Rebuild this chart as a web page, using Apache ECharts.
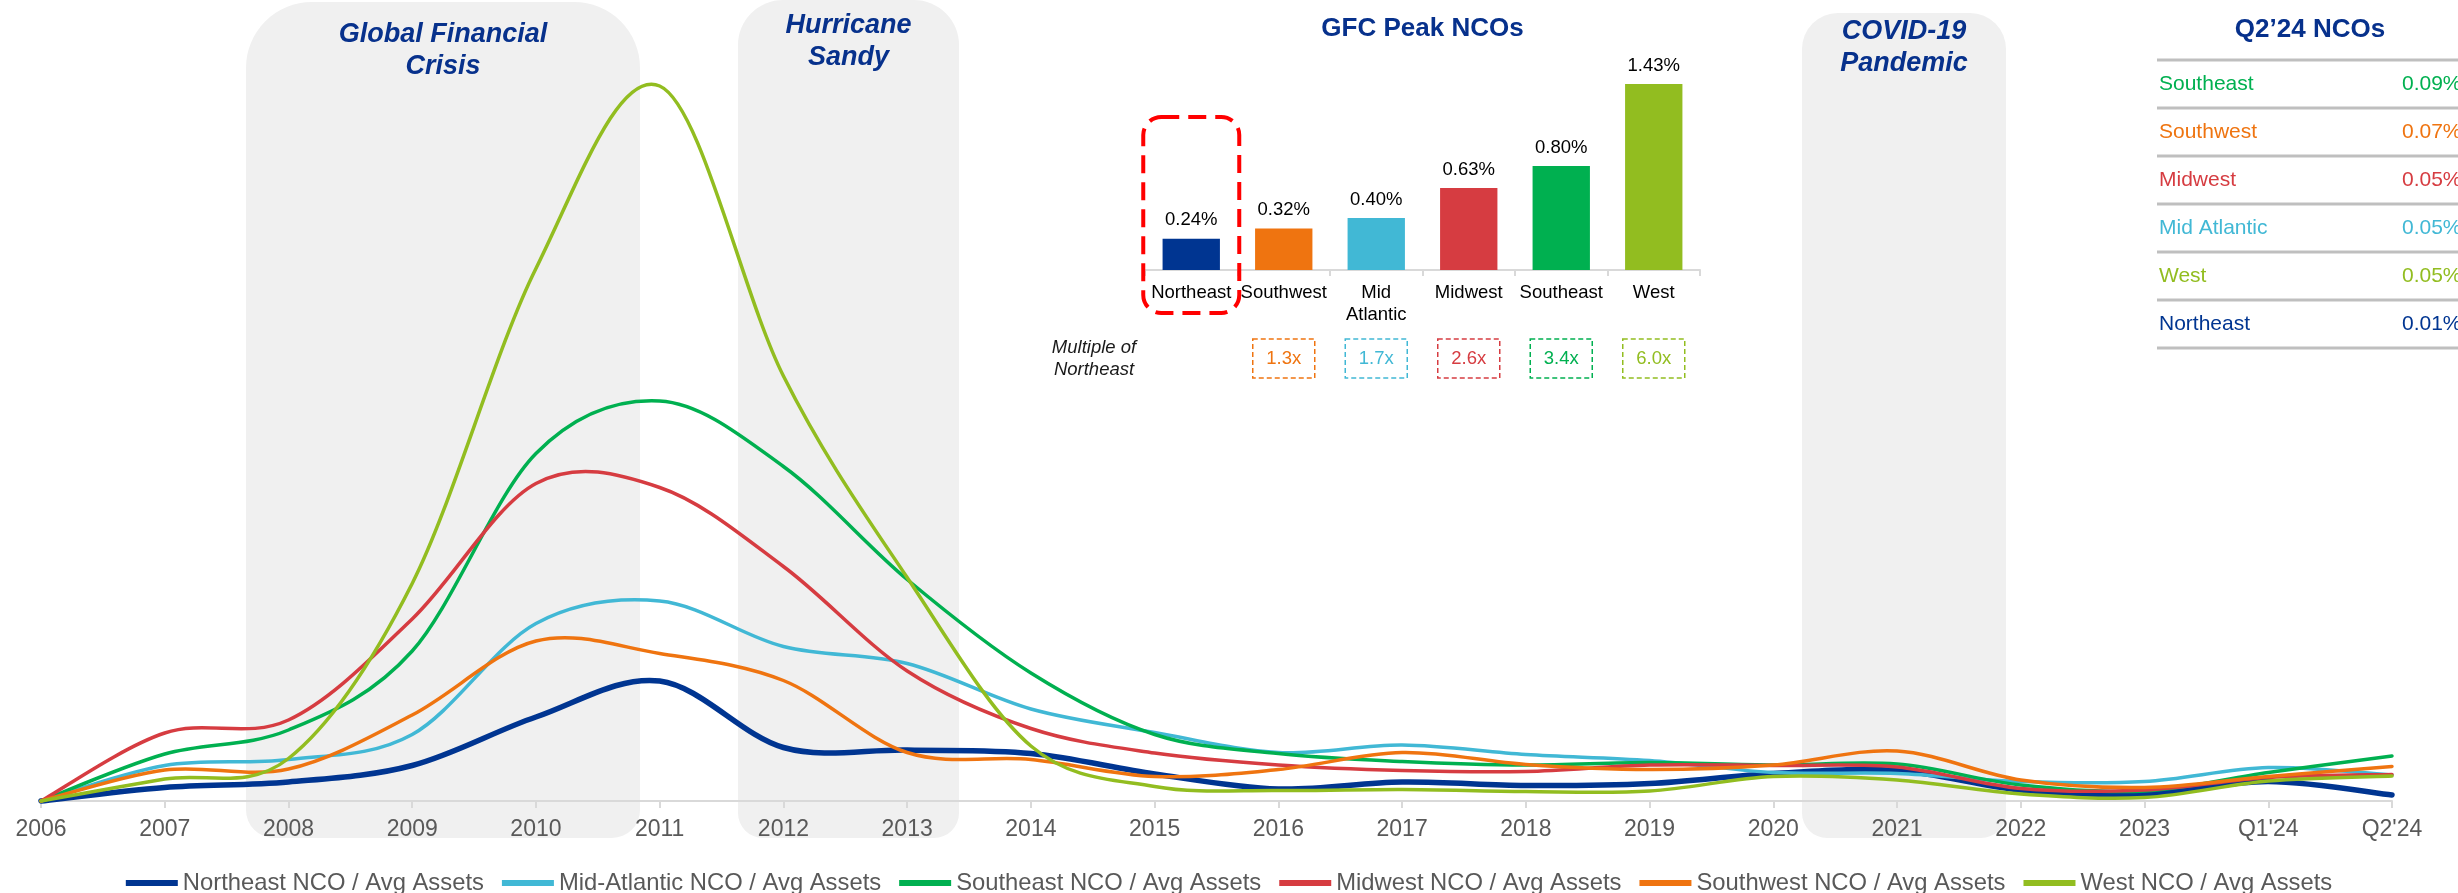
<!DOCTYPE html>
<html><head><meta charset="utf-8">
<script src="https://cdn.jsdelivr.net/npm/echarts@6/dist/echarts.min.js"></script>
<style>html,body{margin:0;padding:0;background:#fff}#c{width:2458px;height:893px}</style>
</head><body><div id="c"></div>
<script>
// ---- main line chart data (NCO / Avg Assets, %) ----
const categories = ['2006','2007','2008','2009','2010','2011','2012','2013','2014','2015','2016','2017','2018','2019','2020','2021','2022','2023',"Q1'24","Q2'24"];
const northeast   = [0, 0.027, 0.038, 0.071, 0.168, 0.240, 0.107, 0.102, 0.095, 0.054, 0.024, 0.038, 0.031, 0.035, 0.055, 0.061, 0.022, 0.014, 0.039, 0.012];
const midAtlantic = [0, 0.071, 0.083, 0.133, 0.355, 0.400, 0.309, 0.275, 0.184, 0.137, 0.097, 0.112, 0.093, 0.081, 0.057, 0.055, 0.039, 0.039, 0.067, 0.052];
const southeast   = [0, 0.094, 0.142, 0.300, 0.695, 0.800, 0.669, 0.443, 0.256, 0.133, 0.095, 0.079, 0.072, 0.077, 0.072, 0.074, 0.032, 0.020, 0.057, 0.090];
const midwest     = [0, 0.136, 0.162, 0.364, 0.635, 0.627, 0.469, 0.260, 0.145, 0.096, 0.072, 0.061, 0.059, 0.072, 0.071, 0.068, 0.025, 0.022, 0.047, 0.053];
const southwest   = [0, 0.062, 0.064, 0.172, 0.320, 0.295, 0.241, 0.097, 0.083, 0.049, 0.063, 0.097, 0.073, 0.063, 0.072, 0.100, 0.042, 0.027, 0.049, 0.069];
const west        = [0, 0.044, 0.085, 0.435, 1.065, 1.430, 0.850, 0.447, 0.110, 0.029, 0.021, 0.023, 0.019, 0.020, 0.049, 0.042, 0.014, 0.007, 0.040, 0.050];
const seriesNames = ['Northeast NCO / Avg Assets','Mid-Atlantic NCO / Avg Assets','Southeast NCO / Avg Assets','Midwest NCO / Avg Assets','Southwest NCO / Avg Assets','West NCO / Avg Assets'];

// ---- GFC peak inset ----
const peakRegions = ['Northeast','Southwest','Mid Atlantic','Midwest','Southeast','West'];
const peakValues  = [0.24, 0.32, 0.40, 0.63, 0.80, 1.43];
const multiples   = ['', '1.3x', '1.7x', '2.6x', '3.4x', '6.0x'];

// ---- Q2'24 table ----
const q2Regions = ['Southeast','Southwest','Midwest','Mid Atlantic','West','Northeast'];
const q2Values  = [0.09, 0.07, 0.05, 0.05, 0.05, 0.01];

// ---- events ----
const events = [
  {lines:['Global Financial','Crisis'], x:246, w:394, y:2, ty:35, r:[66,66,28,28]},
  {lines:['Hurricane','Sandy'], x:738, w:221, y:0, ty:26, r:[45,45,25,25]},
  {lines:['COVID-19','Pandemic'], x:1802, w:204, y:13, ty:32, r:[36,36,25,25]}
];

const colors = {
  'Northeast':'#003591','Mid Atlantic':'#41B8D5','Southeast':'#00B050',
  'Midwest':'#D63C41','Southwest':'#EF7410','West':'#92BD20'
};
const lineColors = [colors['Northeast'],colors['Mid Atlantic'],colors['Southeast'],colors['Midwest'],colors['Southwest'],colors['West']];
const lineData = [northeast, midAtlantic, southeast, midwest, southwest, west];
const lineWidths = [5.5, 3.5, 3.5, 3.5, 3.5, 3.5];

const FONT = '"Liberation Sans", Arial, sans-serif';
const navy = '#07318C';

// Excel-style (uniform Catmull-Rom) smoothed path through pixel points
function smoothPath(pts) {
  let d = 'M' + pts[0][0] + ',' + pts[0][1];
  for (let i = 0; i < pts.length - 1; i++) {
    const p0 = pts[Math.max(i - 1, 0)], p1 = pts[i], p2 = pts[i + 1], p3 = pts[Math.min(i + 2, pts.length - 1)];
    const c1x = p1[0] + (p2[0] - p0[0]) / 6, c1y = p1[1] + (p2[1] - p0[1]) / 6;
    const c2x = p2[0] - (p3[0] - p1[0]) / 6, c2y = p2[1] - (p3[1] - p1[1]) / 6;
    d += ' C' + c1x + ',' + c1y + ' ' + c2x + ',' + c2y + ' ' + p2[0] + ',' + p2[1];
  }
  return d;
}

const chart = echarts.init(document.getElementById('c'), null, {renderer:'canvas'});

const option = {
  animation: false,
  textStyle: {fontFamily: FONT},
  grid: [
    {left: 41, right: 66, top: 1, bottom: 92},
    {left: 1145, top: 62, width: 555, height: 208}
  ],
  xAxis: [
    {type:'category', gridIndex:0, data: categories, boundaryGap:false,
     axisLine:{lineStyle:{color:'#D9D9D9', width:2}},
     axisTick:{show:true, length:7, lineStyle:{color:'#D9D9D9', width:2}},
     axisLabel:{interval:0, fontSize:23, color:'#595959', margin:17, fontFamily:FONT},
     splitLine:{show:false}},
    {type:'category', gridIndex:1, data: peakRegions,
     axisLine:{lineStyle:{color:'#D9D9D9', width:2}},
     axisTick:{show:true, length:6, lineStyle:{color:'#D9D9D9', width:2}},
     axisLabel:{interval:0, fontSize:18.5, color:'#000', margin:12, lineHeight:22, fontFamily:FONT,
       formatter: v => v.replace(' ', '\n')}}
  ],
  yAxis: [
    {type:'value', gridIndex:0, min:0, max:1.6, show:false},
    {type:'value', gridIndex:1, min:0, max:1.6, show:false}
  ],
  legend: {
    data: seriesNames, top: 866, left: 'center', icon: 'rect',
    itemWidth: 52, itemHeight: 6, itemGap: 18,
    textStyle: {fontSize: 23.8, color: '#595959', fontFamily: FONT}
  },
  series: seriesNames.map((n, si) => ({
    name: n, type: 'custom', xAxisIndex: 0, yAxisIndex: 0,
    data: lineData[si].map((v, k) => [k, v]),
    encode: {x: 0, y: 1},
    itemStyle: {color: lineColors[si]},
    z: 3 + si,
    renderItem: (params, api) => {
      if (params.dataIndex !== 0) return null;
      const pts = lineData[si].map((v, k) => api.coord([k, v]));
      return {type: 'path', shape: {pathData: smoothPath(pts)},
        style: {fill: 'none', stroke: lineColors[si], lineWidth: lineWidths[si], lineJoin: 'round', lineCap: 'round'}};
    }
  })).concat([{
    name: 'GFC Peak', type: 'bar', xAxisIndex: 1, yAxisIndex: 1,
    data: peakValues.map((v, i) => ({value: v, itemStyle: {color: colors[peakRegions[i]]}})),
    barWidth: '62%',
    label: {show: true, position: 'top', distance: 9, fontSize: 18.5, color: '#000', fontFamily: FONT,
      formatter: p => p.value.toFixed(2) + '%'}
  }])
};
chart.setOption(option);

// ---- annotations (positions derived from axes where applicable) ----
const g = [];
events.forEach(ev => {
  g.push({type:'rect', z:-1, silent:true, shape:{x:ev.x, y:ev.y, width:ev.w, height:838-ev.y, r:ev.r},
          style:{fill:'#F0F0F0'}});
  const cx = ev.x + ev.w / 2;
  ev.lines.forEach((t, k) => {
    g.push({type:'text', z:10, style:{text:t, x:cx, y:ev.ty + k*32,
      textAlign:'center', textVerticalAlign:'middle', font:'italic bold 27px ' + FONT, fill:navy}});
  });
});

// GFC inset title
const ix0 = chart.convertToPixel({xAxisIndex:1}, 0);
const ixN = chart.convertToPixel({xAxisIndex:1}, peakRegions.length - 1);
g.push({type:'text', style:{text:'GFC Peak NCOs', x:(ix0+ixN)/2, y:29, textAlign:'center', textVerticalAlign:'middle',
  font:'bold 26px ' + FONT, fill:navy}});
// red dashed highlight around Northeast
g.push({type:'rect', z:10, shape:{x:ix0-48, y:117, width:96, height:196, r:18},
  style:{fill:'none', stroke:'#FF0000', lineWidth:4, lineDash:[18,9]}});
// Multiple of Northeast
g.push({type:'text', style:{text:'Multiple of', x:1094, y:348, textAlign:'center', textVerticalAlign:'middle',
  font:'italic 18.5px ' + FONT, fill:'#1a1a1a'}});
g.push({type:'text', style:{text:'Northeast', x:1094, y:370, textAlign:'center', textVerticalAlign:'middle',
  font:'italic 18.5px ' + FONT, fill:'#1a1a1a'}});
peakRegions.forEach((r, i) => {
  if (!multiples[i]) return;
  const cx = chart.convertToPixel({xAxisIndex:1}, i);
  const col = colors[r];
  g.push({type:'rect', shape:{x:cx-31, y:339, width:62, height:39},
    style:{fill:'none', stroke:col, lineWidth:1.5, lineDash:[5,3]}});
  g.push({type:'text', style:{text:multiples[i], x:cx, y:359, textAlign:'center', textVerticalAlign:'middle',
    font:'18.5px ' + FONT, fill:col}});
});

// Q2'24 table
g.push({type:'text', style:{text:'Q2\u201924 NCOs', x:2310, y:30, textAlign:'center', textVerticalAlign:'middle',
  font:'bold 26px ' + FONT, fill:navy}});
for (let k = 0; k <= q2Regions.length; k++) {
  g.push({type:'line', shape:{x1:2157, y1:60 + k*48, x2:2460, y2:60 + k*48},
    style:{stroke:'#BFBFBF', lineWidth:3}});
}
q2Regions.forEach((r, k) => {
  const y = 84.5 + k*48;
  g.push({type:'text', style:{text:r, x:2159, y:y, textAlign:'left', textVerticalAlign:'middle',
    font:'21px ' + FONT, fill:colors[r]}});
  g.push({type:'text', style:{text:q2Values[k].toFixed(2) + '%', x:2402, y:y, textAlign:'left', textVerticalAlign:'middle',
    font:'21px ' + FONT, fill:colors[r]}});
});

chart.setOption({graphic: g});
</script>
</body></html>
